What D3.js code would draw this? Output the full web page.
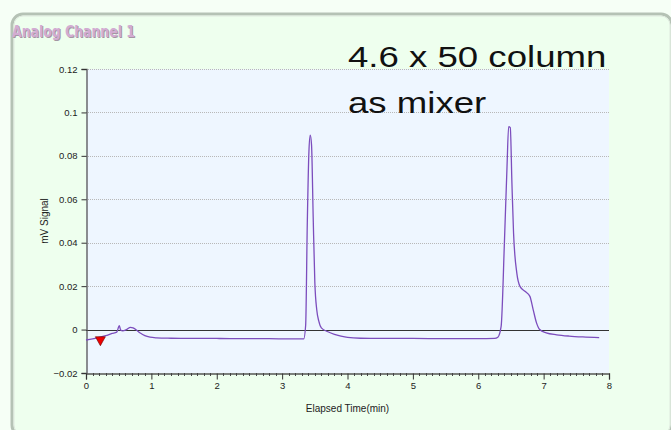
<!DOCTYPE html>
<html>
<head>
<meta charset="utf-8">
<script src="https://cdn.jsdelivr.net/npm/d3@7"></script>
<style>
  html, body { margin: 0; padding: 0; background: #f6fff6; }
  svg { display: block; }
</style>
</head>
<body>
<div id="graph"></div>
<script>
// chart data
const times = [0, 0.1, 0.2, 0.3, 0.4, 0.47, 0.51, 0.53, 0.56, 0.62, 0.68, 0.72, 0.77, 0.83, 0.9, 0.98, 1.08, 1.3, 1.6, 2.0, 2.4, 2.8, 3.1, 3.33,
  3.36, 3.385, 3.41, 3.43, 3.45, 3.475, 3.5, 3.53, 3.56, 3.6, 3.7, 3.8, 3.9, 4.0, 4.2, 4.5, 5.0, 5.5, 6.0, 6.25,
  6.30, 6.35, 6.40, 6.44, 6.465, 6.49, 6.515, 6.54, 6.59, 6.64, 6.72, 6.79, 6.84, 6.89, 6.94, 7.04, 7.2, 7.39, 7.6, 7.85];
const signal = [-0.0048, -0.0043, -0.0036, -0.0028, -0.0018, -0.0012, 0.0018, -0.0002, -0.0006, 0.0, 0.0010, 0.0008, -0.0002, -0.0016, -0.0028, -0.0035, -0.0038, -0.0040, -0.0041, -0.0041, -0.0042, -0.0042, -0.0043, -0.0043,
  0.002, 0.049, 0.082, 0.0895, 0.085, 0.052, 0.022, 0.009, 0.004, 0.0008, -0.001, -0.0022, -0.003, -0.0036, -0.0040, -0.0041, -0.0041, -0.0042, -0.0042, -0.0041,
  -0.0035, 0.0015, 0.040, 0.075, 0.0935, 0.093, 0.0675, 0.0445, 0.026, 0.0198, 0.0175, 0.0153, 0.0092, 0.0032, 0.0, -0.0015, -0.0024, -0.003, -0.0034, -0.0037];
const marker_times = [0.22];
const marker_values = [-0.0033];
const x_ticks = [0, 1, 2, 3, 4, 5, 6, 7, 8];
const y_ticks = [-0.02, 0, 0.02, 0.04, 0.06, 0.08, 0.1, 0.12];
const note_lines = ["4.6 x 50 column", "as mixer"];

const width = 671, height = 430;
const plot = {left: 86, right: 609, top: 69, bottom: 373};

const svg = d3.select('#graph').append('svg')
  .attr('width', width)
  .attr('height', height);

// outer rounded panel
svg.append('rect')
  .attr('x', 12).attr('y', 14).attr('width', 660).attr('height', 422)
  .attr('rx', 11)
  .attr('fill', '#eeffee')
  .attr('stroke', '#b5c2b5')
  .attr('stroke-width', 3);
svg.append('rect')
  .attr('x', 14).attr('y', 16).attr('width', 656).attr('height', 418)
  .attr('rx', 9)
  .attr('fill', 'none')
  .attr('stroke', '#dfe9df')
  .attr('stroke-width', 1);

// title with a little shadow
const title_g = svg.append('g').attr('font-family', 'DejaVu Sans Condensed, DejaVu Sans, sans-serif')
  .attr('font-weight', 'bold').attr('font-size', 16);
title_g.append('text').attr('x', 13).attr('y', 38).attr('fill', '#a397a3')
  .attr('textLength', 123).attr('lengthAdjust', 'spacingAndGlyphs').text('Analog Channel 1');
title_g.append('text').attr('x', 12).attr('y', 37).attr('fill', '#d2acd2')
  .attr('textLength', 123).attr('lengthAdjust', 'spacingAndGlyphs').text('Analog Channel 1');

const x = d3.scaleLinear().domain([0, 8]).range([plot.left, plot.right]);
const y = d3.scaleLinear().domain([-0.02, 0.12]).range([plot.bottom, plot.top]);

// plot background
svg.append('rect')
  .attr('x', plot.left).attr('y', plot.top)
  .attr('width', plot.right - plot.left).attr('height', plot.bottom - plot.top)
  .attr('fill', '#eef6ff');

// dotted gridlines
svg.append('g').selectAll('line')
  .data(y_ticks.filter(d => d > 0))
  .join('line')
  .attr('x1', plot.left).attr('x2', plot.right)
  .attr('y1', d => Math.round(y(d)) + 0.5).attr('y2', d => Math.round(y(d)) + 0.5)
  .attr('stroke', '#b8b8b8')
  .attr('stroke-dasharray', '1,1');

// zero line
svg.append('line')
  .attr('x1', plot.left).attr('x2', plot.right)
  .attr('y1', Math.round(y(0)) + 0.5).attr('y2', Math.round(y(0)) + 0.5)
  .attr('stroke', '#333333');

// axes
const yAxis = svg.append('g')
  .attr('transform', `translate(${plot.left + 0.5},0)`)
  .call(d3.axisLeft(y).tickValues(y_ticks).tickSize(5).tickPadding(4)
    .tickFormat(d => d === 0 ? '0' : d3.format('~g')(+d.toFixed(2))));
const xAxis = svg.append('g')
  .attr('transform', `translate(0,${plot.bottom + 0.5})`)
  .call(d3.axisBottom(x).tickValues(x_ticks).tickSize(6).tickPadding(3).tickFormat(d3.format('d')));

// minor ticks on x axis, every 0.1 min
svg.append('g').selectAll('line')
  .data(d3.range(0, 80).filter(i => i % 10 !== 0).map(i => i / 10))
  .join('line')
  .attr('x1', d => Math.round(x(d)) + 0.5).attr('x2', d => Math.round(x(d)) + 0.5)
  .attr('y1', plot.bottom).attr('y2', plot.bottom + 3)
  .attr('stroke', '#444');

[xAxis, yAxis].forEach(a => {
  a.select('.domain').attr('stroke', '#555').attr('stroke-width', 1.3);
  a.selectAll('.tick line').attr('stroke', '#333');
  a.selectAll('text').attr('font-family', 'Liberation Sans, Arial, sans-serif')
    .attr('font-size', 9.5).attr('fill', '#222');
});

// trace
const pts = times.map((t, i) => [t, signal[i]]);
svg.append('path')
  .datum(pts)
  .attr('fill', 'none')
  .attr('stroke', '#7c4dbd')
  .attr('stroke-width', 1.3)
  .attr('d', d3.line().x(d => x(d[0])).y(d => y(d[1])).curve(d3.curveMonotoneX));

// event marker
svg.append('g').selectAll('path')
  .data(marker_times.map((t, i) => [t, marker_values[i]]))
  .join('path')
  .attr('d', d => {
    let cx = x(d[0]), cy = y(d[1]);
    return `M${cx - 5},${cy}L${cx + 5},${cy}L${cx},${cy + 9}Z`;
  })
  .attr('fill', '#ee0000')
  .attr('stroke', '#660000')
  .attr('stroke-width', 0.6);

// axis titles
svg.append('text')
  .attr('x', (plot.left + plot.right) / 2).attr('y', 412)
  .attr('text-anchor', 'middle')
  .attr('font-family', 'Liberation Sans, Arial, sans-serif').attr('font-size', 10)
  .attr('fill', '#222')
  .text('Elapsed Time(min)');
svg.append('text')
  .attr('transform', `translate(48,${(plot.top + plot.bottom) / 2}) rotate(-90)`)
  .attr('text-anchor', 'middle')
  .attr('font-family', 'Liberation Sans, Arial, sans-serif').attr('font-size', 10)
  .attr('fill', '#222')
  .text('mV Signal');

// annotation text (horizontally stretched like the source)
svg.append('g').selectAll('text')
  .data(note_lines)
  .join('text')
  .attr('transform', (d, i) => `translate(348,${67 + i * 46}) scale(1.22,1)`)
  .attr('font-family', 'Liberation Sans, Arial, sans-serif')
  .attr('font-size', 30)
  .attr('fill', '#111')
  .text(d => d);
</script>
</body>
</html>
